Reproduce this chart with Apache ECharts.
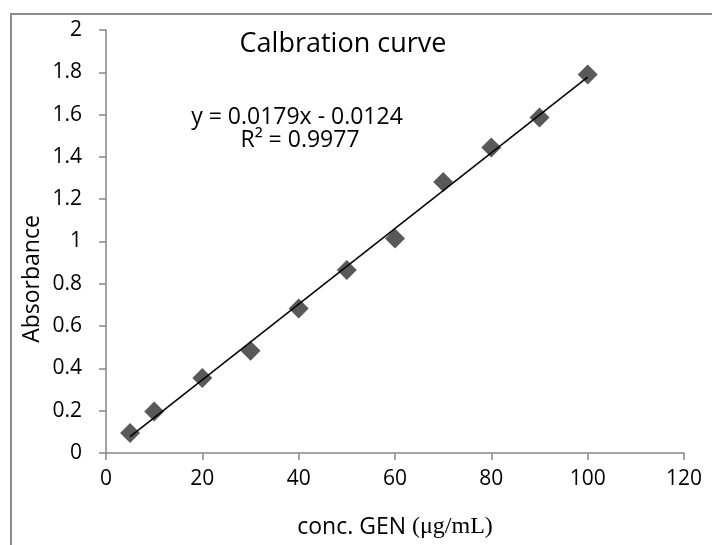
<!DOCTYPE html>
<html>
<head>
<meta charset="utf-8">
<script src="https://cdn.jsdelivr.net/npm/echarts@6/dist/echarts.min.js"></script>
<style>
  html, body { margin: 0; padding: 0; background: #fff; }
  #chart { width: 712px; height: 545px; }
</style>
</head>
<body>
<div id="chart"></div>
<script>
// 数据
const concData = [5, 10, 20, 30, 40, 50, 60, 70, 80, 90, 100];
const absData = [0.095, 0.196, 0.355, 0.484, 0.683, 0.865, 1.014, 1.281, 1.444, 1.586, 1.79];
// 趋势线两端 (y = 0.0179x - 0.0124)
const trendPoints = [[5, 0.0771], [100, 1.7776]];
const titleText = 'Calbration curve';
const eqText = 'y = 0.0179x - 0.0124';
const r2Text = 'R² = 0.9977';
const yName = 'Absorbance';

(function () {
	let myChart = echarts.init(document.getElementById('chart'));
	const font = 'Open Sans';
	const option = {
		animation: false,
		backgroundColor: '#fff',
		textStyle: { fontFamily: font },
		grid: {
			left: 106,
			right: 28,
			top: 30,
			bottom: 92,
			containLabel: false,
			outerBoundsMode: 'none'
		},
		graphic: [
			// 外边框
			{
				type: 'rect',
				shape: { x: 11, y: 14, width: 800, height: 600 },
				style: { fill: 'none', stroke: '#8c8c8c', lineWidth: 2 }
			},
			{
				type: 'text',
				x: 343, y: 44,
				style: {
					text: titleText, fill: '#000', font: '27px "Open Sans"',
					align: 'center', verticalAlign: 'middle'
				}
			},
			{
				type: 'text',
				x: 297, y: 117,
				style: {
					text: eqText, fill: '#000', font: '23px "Open Sans"',
					align: 'center', verticalAlign: 'middle'
				}
			},
			{
				type: 'text',
				x: 300, y: 140,
				style: {
					text: r2Text, fill: '#000', font: '23px "Open Sans"',
					align: 'center', verticalAlign: 'middle'
				}
			},
			// y轴名称
			{
				type: 'text',
				x: 32, y: 279,
				rotation: Math.PI / 2,
				style: {
					text: yName, fill: '#000', font: '23px "Open Sans"',
					align: 'center', verticalAlign: 'middle'
				}
			}
		],
		xAxis: {
			type: 'value',
			min: 0,
			max: 120,
			interval: 20,
			name: '{a|conc. GEN }{b|(μg/mL)}',
			nameLocation: 'middle',
			nameGap: 62,
			nameTextStyle: {
				rich: {
					a: { fontFamily: font, fontSize: 23, color: '#000' },
					b: { fontFamily: 'Liberation Serif', fontSize: 24, color: '#000' }
				}
			},
			axisLine: { lineStyle: { color: '#868686', width: 1.5 } },
			axisTick: { length: 7, lineStyle: { color: '#868686', width: 1.5 } },
			axisLabel: { color: '#000', fontSize: 21, margin: 16 },
			splitLine: { show: false }
		},
		yAxis: {
			type: 'value',
			min: 0,
			max: 2,
			interval: 0.2,
			axisLine: { show: true, lineStyle: { color: '#868686', width: 1.5 } },
			axisTick: { show: true, length: 7, lineStyle: { color: '#868686', width: 1.5 } },
			axisLabel: { color: '#000', fontSize: 21, margin: 24 },
			splitLine: { show: false }
		},
		series: [
			{
				name: '趋势线',
				type: 'line',
				data: trendPoints,
				symbol: 'none',
				lineStyle: { color: '#000', width: 1.5 },
				z: 3
			},
			{
				name: 'Absorbance',
				type: 'scatter',
				data: concData.map((c, i) => [c, absData[i]]),
				symbol: 'diamond',
				symbolSize: 20,
				itemStyle: { color: '#595959', opacity: 1 },
				z: 2
			}
		]
	};
	myChart.setOption(option);
	window.addEventListener('resize', function () {
		myChart.resize();
	});
})();
</script>
</body>
</html>
